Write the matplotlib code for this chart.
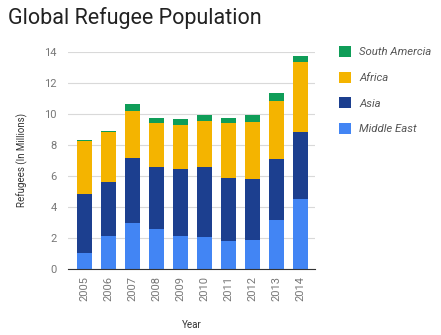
import matplotlib
matplotlib.use('Agg')
import matplotlib.pyplot as plt
import numpy as np

plt.rcParams['font.family'] = ['Roboto', 'DejaVu Sans']

years = ['2005', '2006', '2007', '2008', '2009', '2010', '2011', '2012', '2013', '2014']
middle_east = [1.0, 2.12, 2.98, 2.55, 2.12, 2.04, 1.78, 1.85, 3.15, 4.53]
asia = [3.8, 3.5, 4.19, 4.04, 4.32, 4.51, 4.08, 3.92, 3.91, 4.27]
africa = [3.44, 3.2, 3.0, 2.83, 2.81, 2.98, 3.56, 3.69, 3.78, 4.55]
south_america = [0.06, 0.08, 0.45, 0.32, 0.41, 0.36, 0.32, 0.45, 0.47, 0.38]

colors = {'Middle East': '#4285f4', 'Asia': '#1c3f8f', 'Africa': '#f4b400', 'South Amercia': '#0f9d58'}

fig = plt.figure(figsize=(4.41, 3.35), dpi=100)
ax = fig.add_axes([0.154, 0.197, 0.56, 0.649])

x = np.arange(len(years))
w = 0.63
bottom = np.zeros(len(years))
handles = []
for name, vals in [('Middle East', middle_east), ('Asia', asia),
                   ('Africa', africa), ('South Amercia', south_america)]:
    b = ax.bar(x, vals, w, bottom=bottom, color=colors[name], label=name, zorder=3)
    handles.append(b)
    bottom += np.array(vals)

ax.set_xlim(-0.68, len(years) - 0.4)
ax.set_ylim(0, 14)
ax.set_yticks(range(0, 15, 2))
ax.set_xticks(x)
ax.set_xticklabels(years, rotation=90)
ax.grid(axis='y', color='#d9d9d9', lw=0.8, zorder=0)
for s in ['top', 'right', 'left']:
    ax.spines[s].set_visible(False)
ax.spines['bottom'].set_color('#333333')
ax.spines['bottom'].set_zorder(4)
ax.tick_params(length=0, labelsize=8, labelcolor='#777777')
ax.tick_params(axis='y', pad=8)
ax.tick_params(axis='x', pad=5)

ax.set_ylabel('Refugees (In Millions)', fontsize=7, color='#333333', labelpad=12)
ax.set_xlabel('Year', fontsize=7, color='#333333', labelpad=14)

fig.text(0.018, 0.945, 'Global Refugee Population', fontsize=15.5, color='#222222', va='center')

leg = fig.legend(handles[::-1], [h.get_label() for h in handles[::-1]],
                 loc='upper left', bbox_to_anchor=(0.745, 0.893), frameon=False,
                 handlelength=1.1, handleheight=1.1, handletextpad=0.7,
                 labelspacing=1.25,
                 prop={'size': 8.2, 'style': 'italic'}, labelcolor='#555555')

fig.savefig('out.png', dpi=100)
